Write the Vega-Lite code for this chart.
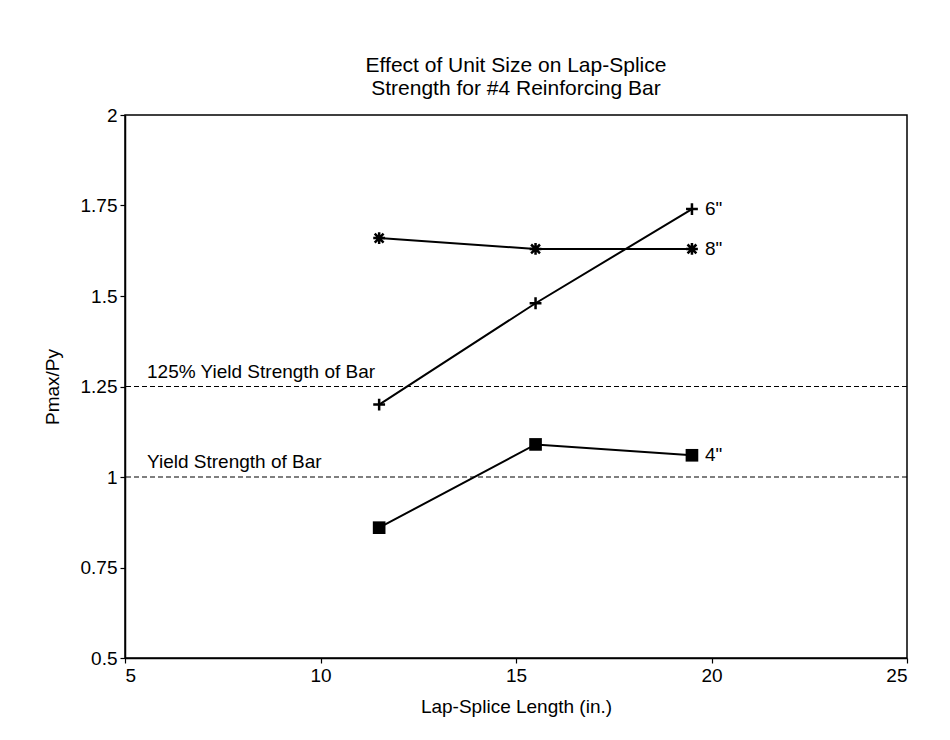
{
  "$schema": "https://vega.github.io/schema/vega-lite/v6.json",
  "width": 782,
  "height": 543,
  "autosize": {"type": "none"},
  "padding": {"left": 125, "top": 115, "right": 43, "bottom": 82},
  "background": "white",
  "config": {
    "font": "Liberation Sans",
    "view": {"stroke": "black", "strokeWidth": 1.5},
    "axis": {
      "grid": false,
      "domainColor": "black",
      "domainWidth": 1.5,
      "tickColor": "black",
      "tickWidth": 1.2,
      "tickSize": 5,
      "labelPadding": 3,
      "labelColor": "black",
      "labelFontSize": 19,
      "labelFont": "Liberation Sans",
      "titleColor": "black",
      "titleFontSize": 19,
      "titleFontWeight": "normal",
      "titleFont": "Liberation Sans"
    }
  },
  "title": {
    "text": ["Effect of Unit Size on Lap-Splice", "Strength for #4 Reinforcing Bar"],
    "anchor": "middle",
    "fontSize": 21,
    "fontWeight": "normal",
    "font": "Liberation Sans",
    "color": "black",
    "lineHeight": 23,
    "offset": 7
  },
  "datasets": {
    "splices": [
      {"length": 11.5, "ratio": 1.20, "unit": "6\""},
      {"length": 15.5, "ratio": 1.48, "unit": "6\""},
      {"length": 19.5, "ratio": 1.74, "unit": "6\""},
      {"length": 11.5, "ratio": 1.66, "unit": "8\""},
      {"length": 15.5, "ratio": 1.63, "unit": "8\""},
      {"length": 19.5, "ratio": 1.63, "unit": "8\""},
      {"length": 11.5, "ratio": 0.86, "unit": "4\""},
      {"length": 15.5, "ratio": 1.09, "unit": "4\""},
      {"length": 19.5, "ratio": 1.06, "unit": "4\""}
    ],
    "limits": [
      {"level": 1.25, "label": "125% Yield Strength of Bar"},
      {"level": 1.0, "label": "Yield Strength of Bar"}
    ]
  },
  "layer": [
    {
      "data": {"name": "limits"},
      "mark": {"type": "rule", "color": "black", "strokeWidth": 1.2, "strokeDash": [5, 3]},
      "encoding": {
        "y": {
          "field": "level",
          "type": "quantitative",
          "scale": {"domain": [0.5, 2], "nice": false, "zero": false},
          "axis": {
            "values": [0.5, 0.75, 1, 1.25, 1.5, 1.75, 2],
            "labelExpr": "'' + datum.value",
            "title": "Pmax/Py",
            "titlePadding": 18
          }
        }
      }
    },
    {
      "data": {"name": "limits"},
      "mark": {"type": "text", "align": "left", "baseline": "bottom", "dx": 22, "dy": -5, "fontSize": 19, "color": "black"},
      "encoding": {
        "x": {"datum": 5, "type": "quantitative"},
        "y": {"field": "level", "type": "quantitative"},
        "text": {"field": "label"}
      }
    },
    {
      "data": {"name": "splices"},
      "mark": {"type": "line", "color": "black", "strokeWidth": 2},
      "encoding": {
        "x": {
          "field": "length",
          "type": "quantitative",
          "scale": {"domain": [5, 25], "nice": false, "zero": false},
          "axis": {"values": [5, 10, 15, 20, 25], "title": "Lap-Splice Length  (in.)", "titlePadding": 12}
        },
        "y": {"field": "ratio", "type": "quantitative"},
        "detail": {"field": "unit"}
      }
    },
    {
      "data": {"name": "splices"},
      "transform": [{"filter": "datum.unit !== '4\"'"}],
      "mark": {"type": "point", "filled": false, "opacity": 1, "strokeWidth": 2.5, "color": "black"},
      "encoding": {
        "x": {"field": "length", "type": "quantitative"},
        "y": {"field": "ratio", "type": "quantitative"},
        "shape": {
          "field": "unit",
          "type": "nominal",
          "scale": {
            "domain": ["6\"", "8\""],
            "range": [
              "M-1,0L1,0M0,-1L0,1",
              "M-1,0L1,0M0,-1L0,1M-0.75,-0.75L0.75,0.75M-0.75,0.75L0.75,-0.75"
            ]
          },
          "legend": null
        },
        "size": {"value": 140}
      }
    },
    {
      "data": {"name": "splices"},
      "transform": [{"filter": "datum.unit === '4\"'"}],
      "mark": {"type": "square", "filled": true, "opacity": 1, "color": "black", "size": 160},
      "encoding": {
        "x": {"field": "length", "type": "quantitative"},
        "y": {"field": "ratio", "type": "quantitative"}
      }
    },
    {
      "data": {"name": "splices"},
      "transform": [{"filter": "datum.length === 19.5"}],
      "mark": {"type": "text", "align": "left", "baseline": "middle", "dx": 13, "fontSize": 19, "color": "black"},
      "encoding": {
        "x": {"field": "length", "type": "quantitative"},
        "y": {"field": "ratio", "type": "quantitative"},
        "text": {"field": "unit"}
      }
    },
    {
      "mark": {"type": "text", "align": "center", "baseline": "middle", "fontSize": 18, "color": "black"},
      "encoding": {
        "x": {"datum": 20.2, "type": "quantitative"},
        "y": {"datum": 1.917, "type": "quantitative"},
        "text": {"value": "Concrete Masonry"}
      }
    },
    {
      "mark": {"type": "text", "align": "center", "baseline": "middle", "fontSize": 18, "color": "black"},
      "encoding": {
        "x": {"datum": 20.2, "type": "quantitative"},
        "y": {"datum": 1.848, "type": "quantitative"},
        "text": {"value": "Unit Width"}
      }
    },
    {
      "mark": {"type": "rule", "color": "black", "strokeWidth": 1.5},
      "encoding": {
        "x": {"datum": 19.0, "type": "quantitative"},
        "x2": {"datum": 21.4},
        "y": {"datum": 1.796, "type": "quantitative"}
      }
    }
  ]
}
